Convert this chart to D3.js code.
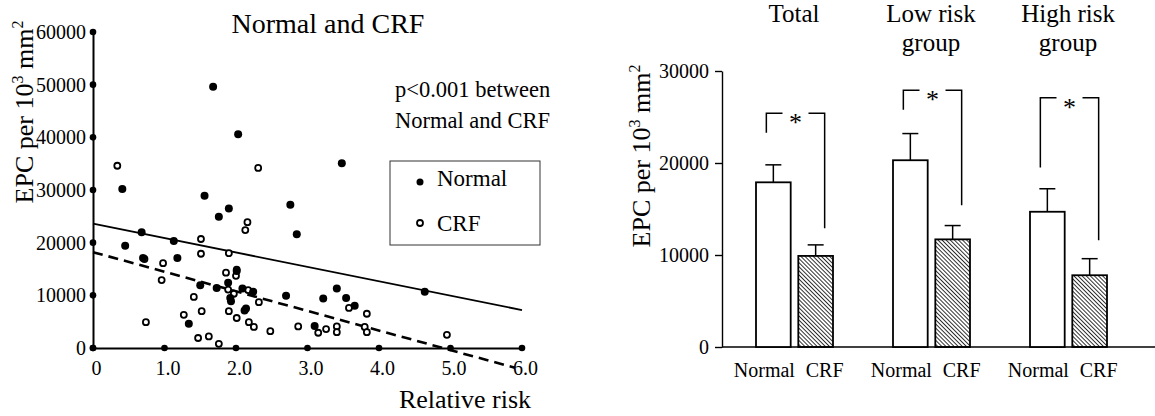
<!DOCTYPE html>
<html>
<head>
<meta charset="utf-8">
<script src="https://cdn.jsdelivr.net/npm/d3@7"></script>
<style>
  body { margin: 0; background: #fff; }
  svg { display: block; font-family: "Liberation Serif", "Times New Roman", serif; }
</style>
</head>
<body>
<svg id="chart" width="1155" height="416"></svg>
<script>
// ---- dati del grafico a dispersione: [rischio relativo, EPC] ----
var normalPoints = [
  [0.41, 30200], [0.45, 19400], [0.68, 22000], [0.70, 17100], [1.13, 20300],
  [1.18, 17100], [1.34, 4600], [1.50, 11900], [1.56, 28900], [1.68, 49600],
  [1.73, 11400], [1.76, 24900], [1.89, 12400], [1.90, 26500], [1.92, 9500],
  [1.93, 8900], [2.01, 14600], [2.03, 40600], [2.09, 11300], [2.12, 7100],
  [2.14, 7500], [2.24, 10700], [2.70, 9900], [2.76, 27200], [2.85, 21600],
  [3.10, 4200], [3.22, 9400], [3.41, 11300], [3.48, 35100], [3.54, 9500],
  [3.66, 8000], [4.64, 10700]
];
var crfPoints = [
  [0.34, 34600], [0.72, 16900], [0.74, 4900], [0.96, 12900], [0.98, 16100],
  [1.27, 6300], [1.41, 9700], [1.47, 1900], [1.51, 20700], [1.51, 17900],
  [1.52, 7000], [1.62, 2200], [1.76, 800], [1.86, 14300], [1.89, 11100],
  [1.90, 18000], [1.90, 7000], [1.97, 10300], [2.00, 13700], [2.01, 14900],
  [2.01, 5700], [2.13, 22400], [2.16, 23900], [2.17, 11000], [2.18, 4900],
  [2.25, 4000], [2.31, 34200], [2.32, 8700], [2.48, 3200], [2.87, 4100],
  [3.15, 2900], [3.26, 3600], [3.41, 4100], [3.41, 3000], [3.58, 7600],
  [3.80, 4000], [3.83, 3000], [3.83, 6500], [4.95, 2500]
];
var normalFit = [[0, 23600], [6, 7200]];
var crfFit = [[0, 18200], [5.9, -3750]];
var scatterXTicks = [0, 1, 2, 3, 4, 5, 6];
var scatterXLabels = ["0", "1.0", "2.0", "3.0", "4.0", "5.0", "6.0"];
var scatterYTicks = [0, 10000, 20000, 30000, 40000, 50000, 60000];

// ---- dati del grafico a barre ----
var groups = ["Total", "Low", "High"];
var groupTitles = [["Total"], ["Low risk", "group"], ["High risk", "group"]];
var series = ["Normal", "CRF"];
var normalMeans = [17900, 20300, 14700];
var normalErr = [19800, 23200, 17200];
var crfMeans = [9900, 11700, 7800];
var crfErr = [11100, 13200, 9600];
var bracketTop = [25400, 27900, 27100];
var bracketLeft = [23300, 25800, 19500];
var bracketRight = [12900, 15400, 11600];
var barYTicks = [0, 10000, 20000, 30000];

var svg = d3.select("#chart");

// pattern tratteggiato per le barre CRF
svg.append("defs").append("pattern")
  .attr("id", "hatch")
  .attr("patternUnits", "userSpaceOnUse")
  .attr("width", 2.9)
  .attr("height", 2.9)
  .attr("patternTransform", "rotate(-45)")
  .append("line")
  .attr("x1", 0).attr("y1", 0).attr("x2", 0).attr("y2", 2.9)
  .attr("stroke", "#000")
  .attr("stroke-width", 1.6);

// =================== grafico a sinistra ===================
var x = d3.scaleLinear().domain([0, 6]).range([93, 522]);
var y = d3.scaleLinear().domain([0, 60000]).range([348, 32]);

var left = svg.append("g");

// assi
var xAxis = left.append("g")
  .attr("transform", "translate(0," + y(0) + ")")
  .call(d3.axisBottom(x).tickValues(scatterXTicks)
    .tickFormat((d, i) => scatterXLabels[i]).tickSize(0).tickPadding(13).tickSizeOuter(0));
var yAxis = left.append("g")
  .attr("transform", "translate(" + x(0) + ",0)")
  .call(d3.axisLeft(y).tickValues(scatterYTicks)
    .tickFormat(d3.format("d")).tickSize(0).tickPadding(7).tickSizeOuter(0));

[xAxis, yAxis].forEach(a => {
  a.attr("font-family", null);
  a.select(".domain").attr("stroke", "#000").attr("stroke-width", 2);
  a.selectAll("text").attr("font-size", 20).attr("fill", "#000");
});
xAxis.selectAll("text").attr("dx", 3);

// tacche a forma di punto
left.selectAll(".xdot").data(scatterXTicks).enter().append("circle")
  .attr("cx", d => x(d)).attr("cy", y(0)).attr("r", 3.3).attr("fill", "#000");
left.selectAll(".ydot").data(scatterYTicks).enter().append("circle")
  .attr("cx", x(0)).attr("cy", d => y(d)).attr("r", 3.3).attr("fill", "#000");

// rette di regressione
var line = d3.line().x(d => x(d[0])).y(d => y(d[1]));
left.append("path").attr("d", line(normalFit))
  .attr("fill", "none").attr("stroke", "#000").attr("stroke-width", 1.8);
left.append("path").attr("d", line(crfFit))
  .attr("fill", "none").attr("stroke", "#000").attr("stroke-width", 2.6)
  .attr("stroke-dasharray", "10,6");

// punti
left.selectAll(".crf").data(crfPoints).enter().append("circle")
  .attr("cx", d => x(d[0])).attr("cy", d => y(d[1])).attr("r", 3)
  .attr("fill", "#fff").attr("stroke", "#000").attr("stroke-width", 1.8);
left.selectAll(".normal").data(normalPoints).enter().append("circle")
  .attr("cx", d => x(d[0])).attr("cy", d => y(d[1])).attr("r", 4)
  .attr("fill", "#000");

// titoli e testi
left.append("text").attr("x", 328).attr("y", 33).attr("text-anchor", "middle")
  .attr("font-size", 28).text("Normal and CRF");
left.append("text").attr("x", 395).attr("y", 97).attr("font-size", 22.5).text("p<0.001 between");
left.append("text").attr("x", 395).attr("y", 128).attr("font-size", 22.5).text("Normal and CRF");
left.append("text").attr("x", 465).attr("y", 408).attr("text-anchor", "middle")
  .attr("font-size", 26).text("Relative risk");

var ylab1 = left.append("text")
  .attr("transform", "translate(33,112) rotate(-90)")
  .attr("text-anchor", "middle").attr("font-size", 26);
ylab1.append("tspan").text("EPC per 10");
ylab1.append("tspan").attr("font-size", 16).attr("dy", -10).text("3");
ylab1.append("tspan").attr("dy", 10).text(" mm");
ylab1.append("tspan").attr("font-size", 16).attr("dy", -10).text("2");

// legenda
left.append("rect").attr("x", 390).attr("y", 161).attr("width", 150).attr("height", 84)
  .attr("fill", "none").attr("stroke", "#333").attr("stroke-width", 1);
left.append("circle").attr("cx", 420).attr("cy", 182).attr("r", 3.5).attr("fill", "#000");
left.append("text").attr("x", 437).attr("y", 186).attr("font-size", 23).text("Normal");
left.append("circle").attr("cx", 420).attr("cy", 223).attr("r", 3)
  .attr("fill", "#fff").attr("stroke", "#000").attr("stroke-width", 1.8);
left.append("text").attr("x", 437).attr("y", 231).attr("font-size", 23).text("CRF");

// =================== grafico a destra ===================
var yb = d3.scaleLinear().domain([0, 30000]).range([347, 71]);
var gx = d3.scalePoint().domain(groups).range([794, 1068]);
var sx = d3.scaleBand().domain(series).range([-38, 39]).paddingInner(0.18);

var right = svg.append("g");

var ybAxis = right.append("g")
  .attr("transform", "translate(722,0)")
  .call(d3.axisLeft(yb).tickValues(barYTicks).tickFormat(d3.format("d"))
    .tickSize(7).tickPadding(6).tickSizeOuter(0));
ybAxis.attr("font-family", null);
ybAxis.select(".domain").attr("stroke", "#000").attr("stroke-width", 1.4);
ybAxis.selectAll("line").attr("stroke", "#000").attr("stroke-width", 1.4);
ybAxis.selectAll("text").attr("font-size", 20).attr("fill", "#000");

right.append("line").attr("x1", 722).attr("x2", 1155).attr("y1", yb(0)).attr("y2", yb(0))
  .attr("stroke", "#000").attr("stroke-width", 1.4);

var ylab2 = right.append("text")
  .attr("transform", "translate(650,156) rotate(-90)")
  .attr("text-anchor", "middle").attr("font-size", 26);
ylab2.append("tspan").text("EPC per 10");
ylab2.append("tspan").attr("font-size", 16).attr("dy", -10).text("3");
ylab2.append("tspan").attr("dy", 10).text(" mm");
ylab2.append("tspan").attr("font-size", 16).attr("dy", -10).text("2");

groups.forEach((g, i) => {
  var gg = right.append("g").attr("transform", "translate(" + gx(g) + ",0)");
  var bars = [
    { s: "Normal", v: normalMeans[i], e: normalErr[i], fill: "#fff" },
    { s: "CRF", v: crfMeans[i], e: crfErr[i], fill: "url(#hatch)" }
  ];
  bars.forEach(b => {
    var cx = sx(b.s) + sx.bandwidth() / 2;
    // barra d'errore
    gg.append("line").attr("x1", cx).attr("x2", cx).attr("y1", yb(b.v)).attr("y2", yb(b.e))
      .attr("stroke", "#000").attr("stroke-width", 1.5);
    gg.append("line").attr("x1", cx - 8).attr("x2", cx + 8).attr("y1", yb(b.e)).attr("y2", yb(b.e))
      .attr("stroke", "#000").attr("stroke-width", 1.5);
    gg.append("rect").attr("x", sx(b.s)).attr("y", yb(b.v))
      .attr("width", sx.bandwidth()).attr("height", yb(0) - yb(b.v))
      .attr("fill", b.fill).attr("stroke", "#000").attr("stroke-width", 1.8);
    gg.append("text").attr("x", cx + (b.s == "Normal" ? -9 : 9)).attr("y", 377)
      .attr("text-anchor", "middle").attr("font-size", 20).text(b.s);
  });

  // parentesi di significatività
  var lx = sx("Normal") + sx.bandwidth() / 2 - 7;
  var rx = sx("CRF") + sx.bandwidth() / 2 + 9;
  var mx = (lx + rx) / 2;
  var path = "M" + lx + "," + yb(bracketLeft[i]) + "V" + yb(bracketTop[i]) + "H" + (mx - 13) +
    "M" + (mx + 13) + "," + yb(bracketTop[i]) + "H" + rx + "V" + yb(bracketRight[i]);
  gg.append("path").attr("d", path).attr("fill", "none")
    .attr("stroke", "#000").attr("stroke-width", 1.5);
  gg.append("text").attr("x", mx).attr("y", yb(bracketTop[i]) + 18)
    .attr("text-anchor", "middle").attr("font-size", 26).text("*");

  // titolo del gruppo
  groupTitles[i].forEach((t, k) => {
    gg.append("text").attr("x", 0).attr("y", 22 + k * 29)
      .attr("text-anchor", "middle").attr("font-size", 25).text(t);
  });
});
</script>
</body>
</html>
